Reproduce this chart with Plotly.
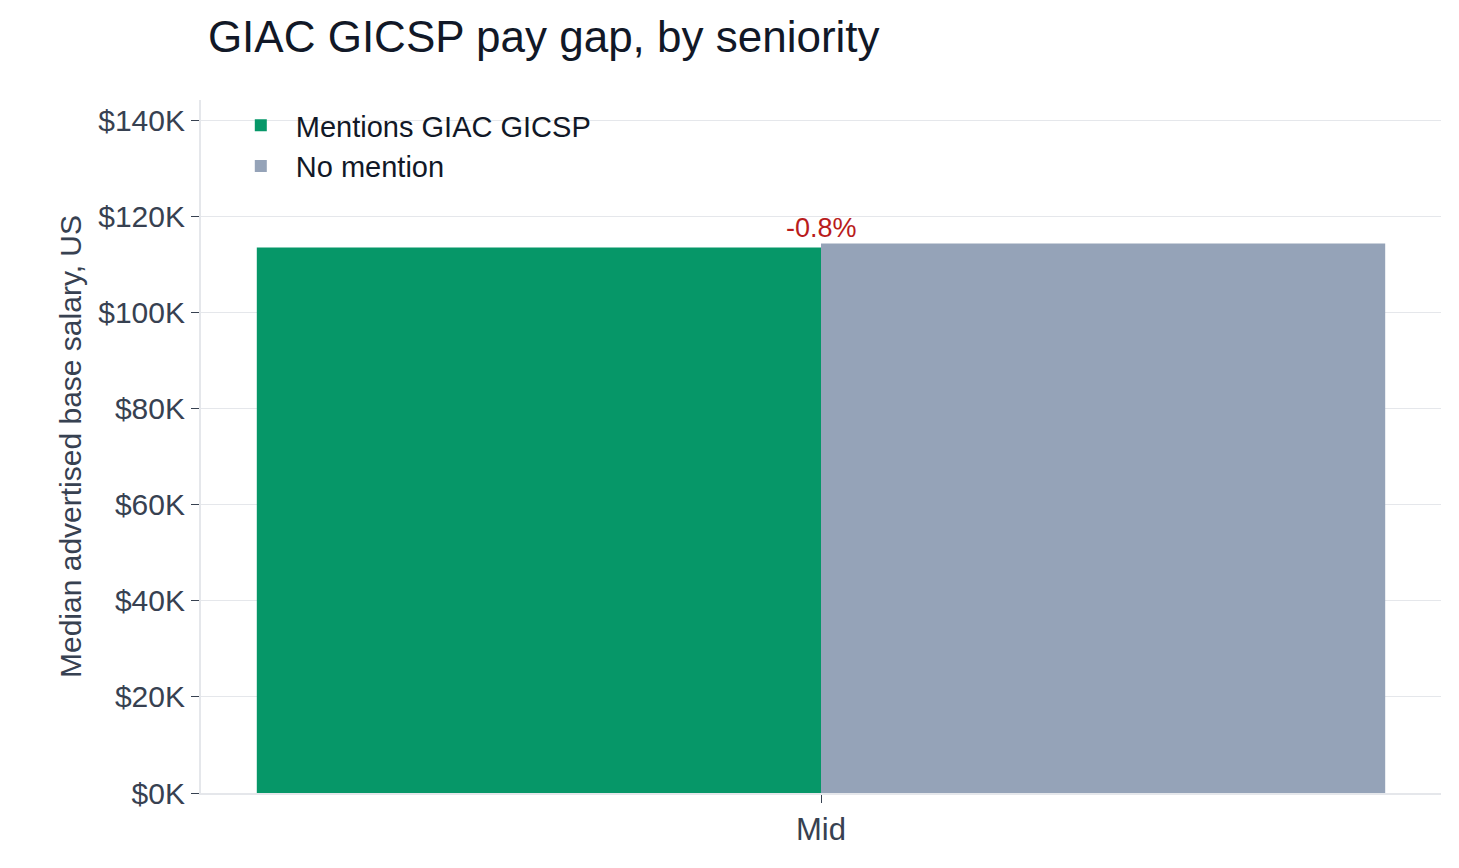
import plotly.graph_objects as go

categories = ["Mid"]
mentions = [113.6]
no_mention = [114.4]
gap_labels = ["-0.8%"]

F = "Liberation Sans"
fig = go.Figure()
fig.add_bar(x=categories, y=mentions, name="Mentions GIAC GICSP", marker_color="#069768", marker_line_width=0)
fig.add_bar(x=categories, y=no_mention, name="No mention", marker_color="#95a3b8", marker_line_width=0)
for c, a, b, t in zip(categories, mentions, no_mention, gap_labels):
    fig.add_annotation(x=c, y=max(a, b), text=t, showarrow=False, yshift=16,
                       font=dict(color="#b91c1c", size=27, family=F))

fig.update_layout(
    width=1459, height=868, barmode="group", bargap=0.09, bargroupgap=0,
    plot_bgcolor="white", paper_bgcolor="white",
    margin=dict(l=193, r=26, t=92, b=83),
    font=dict(family=F, color="#374151", size=30),
    title=dict(text="GIAC GICSP pay gap, by seniority", x=0.137, xanchor="left", y=0.985, yanchor="top",
               font=dict(size=44, color="#111827")),
    legend=dict(x=0.02, y=1.0, xanchor="left", yanchor="top", bgcolor="rgba(0,0,0,0)",
                font=dict(size=29, color="#111827"), itemwidth=60),
    showlegend=True,
)
fig.update_yaxes(range=[0, 144.3], tickvals=[0, 20, 40, 60, 80, 100, 120, 140],
                 ticktext=["$0K", "$20K", "$40K", "$60K", "$80K", "$100K", "$120K", "$140K"],
                 gridcolor="#e5e7eb", showline=True, linecolor="#e5e7eb", linewidth=2,
                 ticks="outside", tickcolor="#374151", ticklen=8, zeroline=False,
                 title=dict(text="Median advertised base salary, US", font=dict(size=30), standoff=8),
                 tickfont=dict(size=30))
fig.update_xaxes(showline=True, linecolor="#e5e7eb", linewidth=2, ticks="outside",
                 tickcolor="#374151", ticklen=8, tickfont=dict(size=31))
fig.write_html("out.html")
